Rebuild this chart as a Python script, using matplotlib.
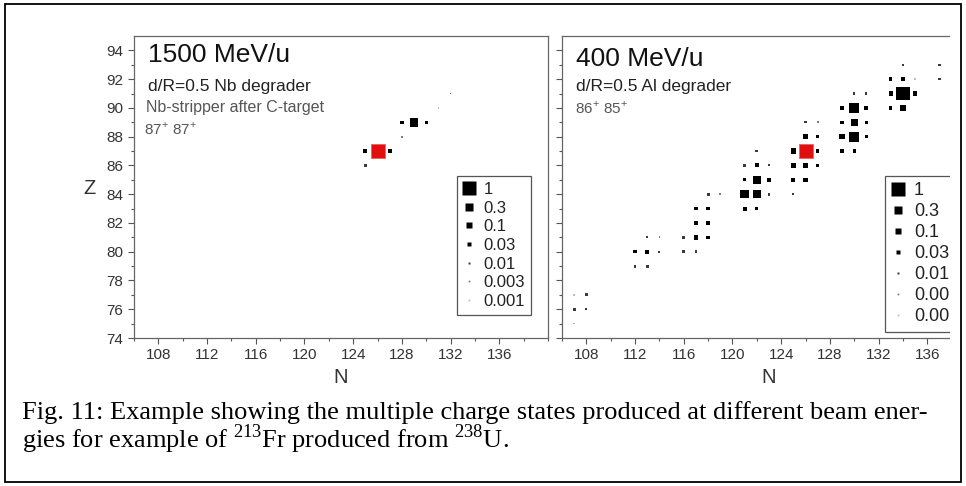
import matplotlib
matplotlib.use('Agg')
import matplotlib.pyplot as plt
from matplotlib.lines import Line2D
from matplotlib.patches import Rectangle
from matplotlib.ticker import FixedLocator

plt.rcParams['font.family'] = ['Liberation Sans', 'DejaVu Sans']
plt.rcParams['mathtext.fontset'] = 'custom'
plt.rcParams['mathtext.rm'] = 'Liberation Serif'
plt.rcParams['mathtext.sf'] = 'Liberation Sans'

# --- data: relative yield per (N, Z) ---
# 1500 MeV/u, Nb degrader
hi_N = [129, 125, 127, 125, 128, 130, 128, 131, 132]
hi_Z = [89, 87, 87, 86, 89, 89, 88, 90, 91]
hi_val = [0.35, 0.05, 0.05, 0.02, 0.03, 0.03, 0.005, 0.001, 0.005]

# 400 MeV/u, Al degrader
lo_N = [134, 137, 133, 134, 135, 137, 133, 134, 135, 133, 134,
        130, 131, 129, 130, 131, 129, 130, 131, 129, 130, 131, 129, 130,
        126, 127, 126, 127, 125, 127, 125, 126, 127, 125, 126, 125,
        122, 121, 122, 123, 121, 122, 123, 121, 122, 123, 121, 122,
        118, 119, 117, 118, 117, 118, 116, 117, 118, 116, 117,
        113, 114, 112, 113, 114, 112, 113,
        107, 108, 107, 108, 107]
lo_Z = [93, 93, 92, 92, 92, 92, 91, 91, 91, 90, 90,
        91, 91, 90, 90, 90, 89, 89, 89, 88, 88, 88, 87, 87,
        89, 89, 88, 88, 87, 87, 86, 86, 86, 85, 85, 84,
        87, 86, 86, 86, 85, 85, 85, 84, 84, 84, 83, 83,
        84, 84, 83, 83, 82, 82, 81, 81, 81, 80, 80,
        81, 81, 80, 80, 80, 79, 79,
        77, 77, 76, 76, 75]
lo_val = [0.01, 0.01, 0.03, 0.06, 0.001, 0.01, 0.05, 1.0, 0.05, 0.03, 0.15,
          0.01, 0.01, 0.03, 0.5, 0.05, 0.03, 0.2, 0.03, 0.1, 0.5, 0.03, 0.04, 0.03,
          0.01, 0.003, 0.1, 0.03, 0.1, 0.03, 0.1, 0.1, 0.03, 0.05, 0.05, 0.01,
          0.02, 0.02, 0.05, 0.01, 0.03, 0.3, 0.05, 0.3, 0.3, 0.02, 0.05, 0.03,
          0.02, 0.003, 0.03, 0.03, 0.06, 0.03, 0.02, 0.06, 0.03, 0.02, 0.02,
          0.01, 0.003, 0.03, 0.05, 0.01, 0.02, 0.02,
          0.001, 0.02, 0.02, 0.01, 0.001]

# 213Fr itself (red)
fr_N, fr_Z, fr_val = 126, 87, 1.0

legend_vals = [1, 0.3, 0.1, 0.03, 0.01, 0.003, 0.001]
legend_labels = ['1', '0.3', '0.1', '0.03', '0.01', '0.003', '0.001']

panel_titles = ['1500 MeV/u', '400 MeV/u']
panel_sub = ['d/R=0.5 Nb degrader', 'd/R=0.5 Al degrader']
panel_charge = ['87$^{\\mathsf{+}}$ 87$^{\\mathsf{+}}$', '86$^{\\mathsf{+}}$ 85$^{\\mathsf{+}}$']

caption1 = 'Fig. 11: Example showing the multiple charge states produced at different beam ener-'
caption2 = 'gies for example of $^{213}$Fr produced from $^{238}$U.'


def side(v):
    # marker side in points
    return max(13.5 * v ** 0.4, 1.7) * 0.72


def shade(v):
    if v >= 0.03:
        return 'black'
    if v >= 0.01:
        return '#3a3a3a'
    if v >= 0.003:
        return '#7a7a7a'
    return '#bdbdbd'


W, H = 966, 486
fig = plt.figure(figsize=(W / 100, H / 100), dpi=100)

ax_l = fig.add_axes([134 / W, 1 - 338 / H, 414 / W, 302 / H])
ax_r = fig.add_axes([562 / W, 1 - 338 / H, 414 / W, 302 / H])

for ax, N, Z, val in [(ax_l, hi_N, hi_Z, hi_val), (ax_r, lo_N, lo_Z, lo_val)]:
    ax.scatter(N, Z, s=[side(v) ** 2 for v in val], c=[shade(v) for v in val],
               marker='s', linewidths=0, zorder=3)
    ax.scatter([fr_N], [fr_Z], s=[side(fr_val) ** 2], c='#e01010', marker='s',
               linewidths=0.6, edgecolors='#f06060', zorder=4)
    ax.set_xlim(106, 140)
    ax.set_ylim(74, 95)
    ax.xaxis.set_major_locator(FixedLocator(range(108, 137, 4)))
    ax.xaxis.set_minor_locator(FixedLocator(range(106, 141, 2)))
    ax.yaxis.set_major_locator(FixedLocator(range(74, 95, 2)))
    ax.yaxis.set_minor_locator(FixedLocator(range(75, 95, 2)))
    ax.tick_params(which='both', direction='out', color='#555', width=0.8,
                   labelsize=11, labelcolor='#333', top=False, right=False)
    ax.tick_params(which='major', length=4.5, pad=3)
    ax.tick_params(which='minor', length=2.5)
    for sp in ax.spines.values():
        sp.set_color('#666')
        sp.set_linewidth(0.9)
    ax.text(0.5, -0.132, 'N', transform=ax.transAxes, ha='center', va='center',
            fontsize=14.5, color='#333')

    handles = [Line2D([], [], ls='none', marker='s', ms=side(v), color=shade(v), mec='none')
               for v in legend_vals]
    leg = ax.legend(handles, legend_labels, loc='upper left', bbox_to_anchor=(0.78, 0.536),
                    frameon=True, fancybox=False, edgecolor='#555', framealpha=1,
                    fontsize=12 if ax is ax_l else 13, handlelength=0.8, handletextpad=0.45,
                    borderpad=0.35, labelspacing=0.22, borderaxespad=0)
    leg.get_frame().set_linewidth(0.9)
    for t in leg.get_texts():
        t.set_color('#222')

ax_r.tick_params(labelleft=False)
ax_r.spines['right'].set_visible(False)

# panel annotations
ax_l.text(0.034, 0.914, panel_titles[0], transform=ax_l.transAxes, fontsize=19, color='#111')
ax_l.text(0.034, 0.818, panel_sub[0], transform=ax_l.transAxes, fontsize=12.5, color='#222')
ax_l.text(0.030, 0.748, 'Nb-stripper after C-target', transform=ax_l.transAxes,
          fontsize=11.5, color='#555')
ax_l.text(0.024, 0.672, panel_charge[0], transform=ax_l.transAxes, fontsize=11, color='#555')

ax_r.text(0.034, 0.900, panel_titles[1], transform=ax_r.transAxes, fontsize=19, color='#111')
ax_r.text(0.034, 0.818, panel_sub[1], transform=ax_r.transAxes, fontsize=12.5, color='#222')
ax_r.text(0.031, 0.742, panel_charge[1], transform=ax_r.transAxes, fontsize=11, color='#555')

fig.text(90 / W, 1 - 188 / H, 'Z', ha='center', va='center', fontsize=14.5, color='#333')

# the original picture is cropped on the right
fig.add_artist(Rectangle((950 / W, 0), 20 / W, 1, transform=fig.transFigure,
                         facecolor='white', edgecolor='none', zorder=10))

# caption
fig.text(22 / W, 1 - 413 / H, caption1, family='Liberation Serif', fontsize=19,
         va='center', color='black', zorder=12)
fig.text(22 / W, 1 - 439 / H, caption2, family='Liberation Serif', fontsize=19,
         va='center', color='black', zorder=12)

# outer frame
fig.add_artist(Rectangle((5 / W, 4 / H), 956 / W, 478 / H, transform=fig.transFigure,
                         fill=False, edgecolor='black', linewidth=1.3, zorder=11))

plt.savefig('out.png', dpi=100)
